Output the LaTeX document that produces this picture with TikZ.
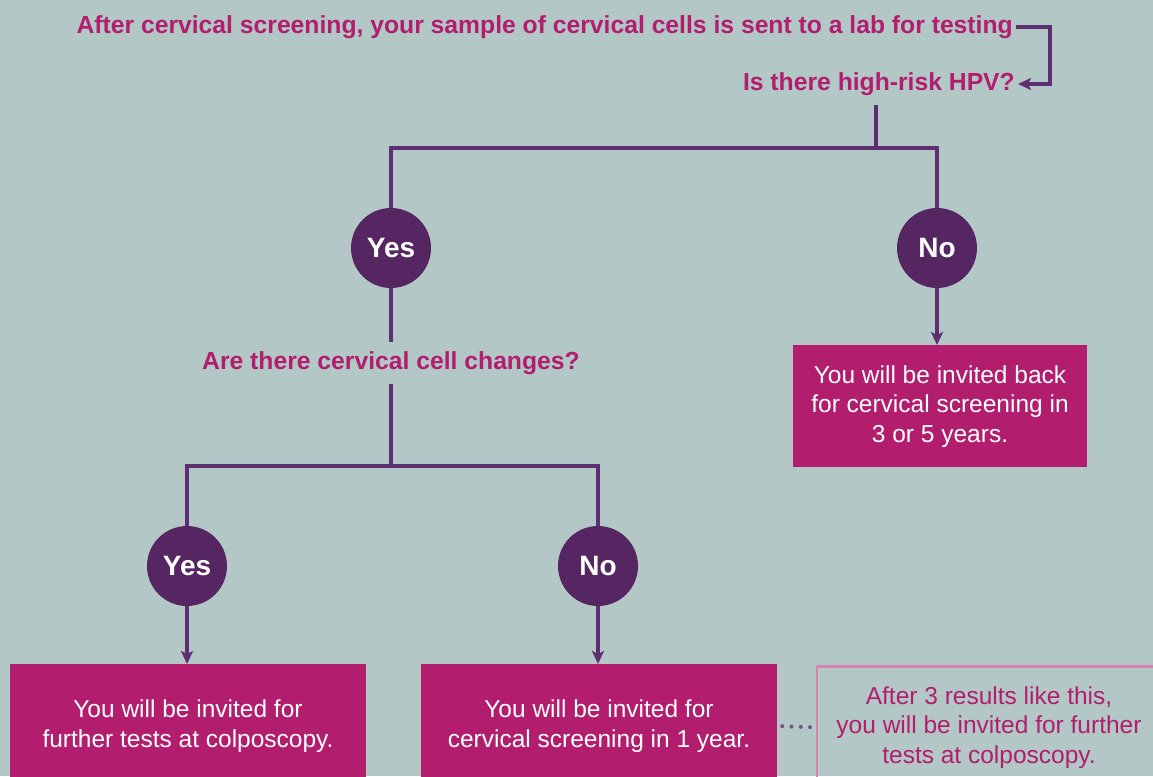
\documentclass[tikz,border=0pt]{standalone}
\usepackage{fontspec}
\setmainfont{Liberation Sans}
\usepackage{tikz}
\usetikzlibrary{positioning, arrows.meta}
\definecolor{mybg}{RGB}{179,199,198}
\definecolor{mymagenta}{RGB}{178,29,110}
\definecolor{mypurple}{RGB}{86,38,98}
\definecolor{myline}{RGB}{92,48,112}

\begin{document}
\begin{tikzpicture}[x=1pt, y=-1pt, >={Stealth[length=13pt, width=12pt, inset=3pt]}, font=\fontsize{24.5}{29.5}\selectfont,
    frage/.style={text=mymagenta, font=\fontsize{24.7}{29.5}\selectfont\bfseries, inner xsep=3pt, inner ysep=9pt},
    kreis/.style={circle, fill=mypurple, text=white, minimum size=80pt, inner sep=0pt,
      font=\fontsize{28}{34}\selectfont\bfseries},
    ergebnis/.style={fill=mymagenta, text=white, align=center, anchor=north, minimum width=356pt, minimum height=124pt},
    hinweis/.style={draw=mymagenta!55, line width=2.5pt, text=mymagenta, align=center, anchor=north,
      minimum width=344pt, minimum height=122pt},
    linie/.style={draw=myline, line width=3.2pt}]
	%Hintergrund
	\fill[mybg] (0,0) rectangle (1153,776);
	\clip (0,0) rectangle (1153,776);
	% Fragen
	\node[frage, anchor=east] (probe) at (1016,27) {After cervical screening, your sample of cervical cells is sent to a lab for testing};
	\node[frage, anchor=east] (hpv) at (1018,84) {Is there high-risk HPV?};
	\coordinate (knick) at (1050,55);
	\draw[linie,->] (probe.east) -| (knick) |- (hpv.east);
	% erste Verzweigung
	\coordinate (gabel1) at (876,148);
	\node[kreis] (ja1) at (391,248) {Yes};
	\node[kreis] (nein1) at (937,248) {No};
	\draw[linie] (hpv.south -| gabel1) -- (gabel1);
	\draw[linie] (ja1) |- (gabel1) -| (nein1);
	\node[frage] (zellen) at (391,363) {Are there cervical cell changes?};
	\draw[linie] (ja1) -- (zellen);
	% zweite Verzweigung
	\coordinate (gabel2) at (391,466);
	\node[kreis] (ja2) at (187,566) {Yes};
	\node[kreis] (nein2) at (598,566) {No};
	\draw[linie] (zellen) -- (gabel2);
	\draw[linie] (ja2) |- (gabel2) -| (nein2);
	% Ergebnisse
	\node[ergebnis, minimum width=294pt, minimum height=122pt] (zurueck) at (940,345) {You will be invited back\\for cervical screening in\\3 or 5 years.};
	\node[ergebnis] (kolpo) at (188,664) {You will be invited for\\further tests at colposcopy.};
	\node[ergebnis] (jahr) at (599,664) {You will be invited for\\cervical screening in 1 year.};
	\node[hinweis] (drei) at (989,665) {After 3 results like this,\\you will be invited for further\\tests at colposcopy.};
	\draw[linie,->] (nein1) -- (nein1 |- zurueck.north);
	\draw[linie,->] (ja2) -- (ja2 |- kolpo.north);
	\draw[linie,->] (nein2) -- (nein2 |- jahr.north);
	\draw[myline!85, line width=4pt, line cap=round, dash pattern=on 0pt off 9.3pt] ([xshift=5pt]jahr.east) -- ([xshift=-4pt]drei.west);
\end{tikzpicture}
\end{document}
